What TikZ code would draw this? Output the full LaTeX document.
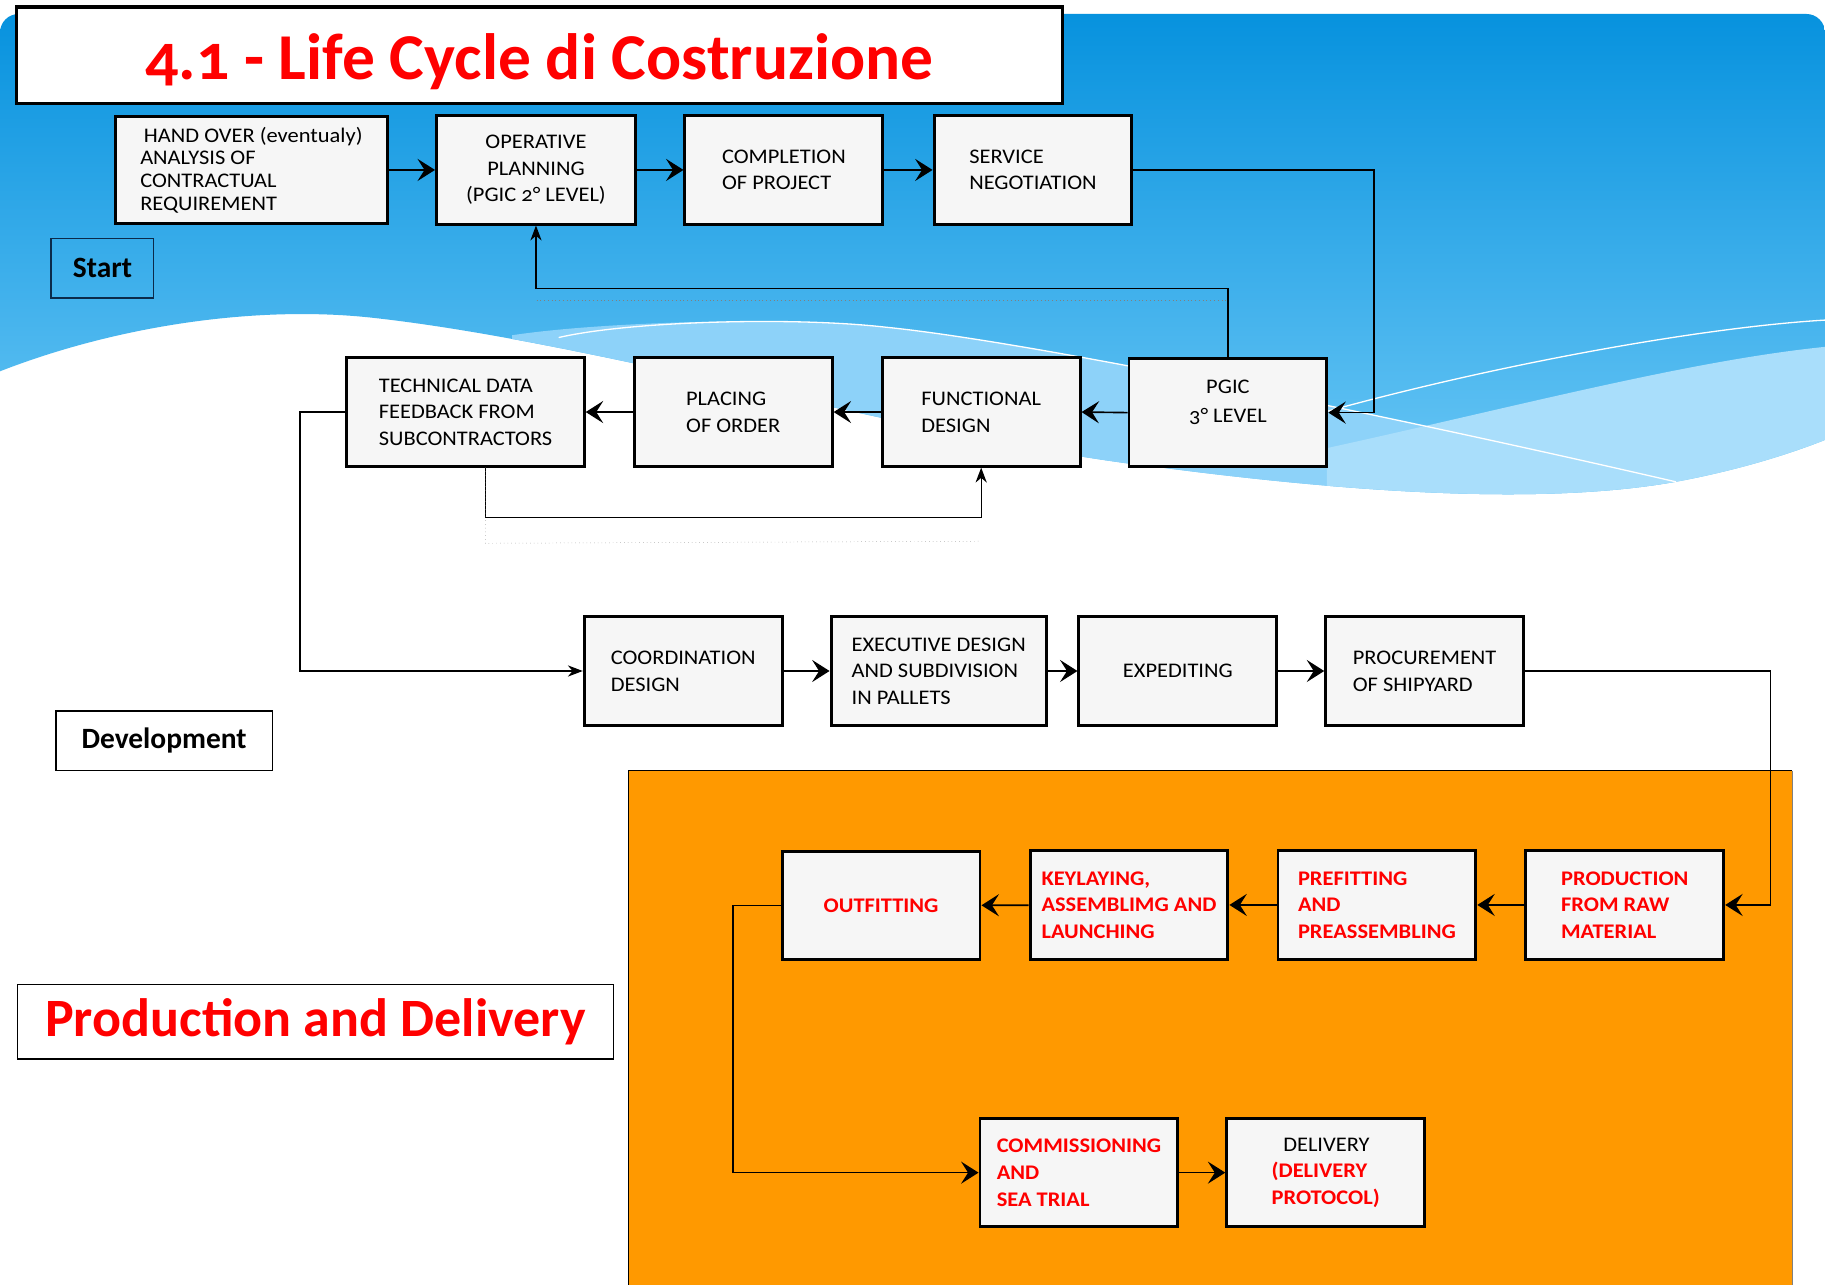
\documentclass[tikz,border=0pt]{standalone}
\usepackage{fontspec}
\setmainfont{Carlito}[Numbers=OldStyle]
\newfontfamily\boxfamily{Carlito}[FakeStretch=1.08, Numbers=OldStyle]
\usetikzlibrary{arrows.meta}
\definecolor{skytop}{HTML}{0792DE}
\definecolor{skybottom}{HTML}{6CC8F6}
\definecolor{skypale}{HTML}{8DD2F9}
\definecolor{skypaler}{HTML}{A9DEFB}
\definecolor{boxfill}{HTML}{F6F6F6}
\definecolor{yardorange}{HTML}{FF9900}
\definecolor{startline}{HTML}{0B2A4A}
\def\pxu{0.25mm}

\begin{document}
\begin{tikzpicture}[x=\pxu, y=-\pxu,
  box/.style={draw, line width=1.8pt, fill=boxfill, minimum width=170*\pxu, minimum height=93*\pxu, align=left, inner sep=2pt, font=\boxfamily\fontsize{12.7}{16.3}\selectfont},
  redbox/.style={box, text=red, font=\boxfamily\fontsize{12.7}{16.3}\selectfont\bfseries},
  tag/.style={draw, line width=1pt, fill=white, font=\fontsize{18}{20}\selectfont\bfseries},
  arr/.style={line width=1pt, -{Stealth[length=3.75mm, width=4.75mm, inset=1.5mm]}},
  arrthin/.style={line width=0.8pt, -{Stealth[length=3.2mm, width=2.4mm, inset=1mm]}},
  ghost/.style={gray, line width=0.3pt, dotted}]
\useasboundingbox (0,0) rectangle (1568,1104);
\fill[white] (0,0) rectangle (1568,1104);
\shade[top color=skytop, bottom color=skybottom] (1568,378) [rounded corners=4mm] -- (1568,12) -- (0,12) [sharp corners] -- (0,319) .. controls (100,280) and (220,262) .. (320,273) .. controls (520,295) and (800,380) .. (1000,402) .. controls (1200,428) and (1350,432) .. (1450,412) .. controls (1510,400) and (1550,385) .. (1568,378);
\begin{scope}
\clip (1568,378) -- (1568,12) -- (0,12) -- (0,319) .. controls (100,280) and (220,262) .. (320,273) .. controls (520,295) and (800,380) .. (1000,402) .. controls (1200,428) and (1350,432) .. (1450,412) .. controls (1510,400) and (1550,385) .. (1568,378);
\fill[skypale] (440,288) .. controls (520,276) and (680,272) .. (760,281) .. controls (900,295) and (1250,370) .. (1440,414) -- (1440,500) -- (440,500) -- cycle;
\fill[skypaler] (1140,385) .. controls (1300,350) and (1450,310) .. (1568,298) -- (1568,500) -- (1140,500) -- cycle;
\draw[white, line width=0.8pt] (480,290) .. controls (540,276) and (680,272) .. (760,281) .. controls (900,295) and (1250,370) .. (1440,414);
\draw[white, line width=0.8pt] (1100,365) .. controls (1250,320) and (1450,282) .. (1568,275);
\end{scope}
\fill[yardorange] (540,662) rectangle (1540,1104);
\draw[line width=0.8pt] (540,1104) |- (1540,662);
\draw[gray, line width=0.6pt] (1540,662) -- (1540,1104);

\node[draw, line width=2pt, fill=white, minimum width=899*\pxu, minimum height=83*\pxu, text=red, font=\fontsize{40}{44}\selectfont\bfseries] (title) at (463.5,47.5) {\raisebox{-1.3mm}[\height][\depth]{4.1 - Life Cycle di Costruzione}};
\node[box, minimum width=234*\pxu, minimum height=92*\pxu, font=\boxfamily\fontsize{12.7}{13.8}\selectfont] (handover) at (216,146) {\hspace*{0.8mm}HAND OVER (eventualy)\\ANALYSIS OF\\CONTRACTUAL\\REQUIREMENT};
\node[box, align=center, minimum width=171*\pxu] (operative) at (460.5,146) {OPERATIVE\\PLANNING\\(PGIC 2° LEVEL)};
\node[box] (completion) at (673.5,146) {COMPLETION\\OF PROJECT};
\node[box] (service) at (887.5,146) {SERVICE\\NEGOTIATION};
\node[tag, draw=startline, fill=none, minimum width=88*\pxu, minimum height=51*\pxu] (start) at (88,230.5) {Start};

\node[box, minimum width=204*\pxu] (technical) at (400,354) {TECHNICAL DATA\\FEEDBACK FROM\\SUBCONTRACTORS};
\node[box] (placing) at (630,354) {PLACING\\OF ORDER};
\node[box] (functional) at (843,354) {FUNCTIONAL\\DESIGN};
\node[box, align=center] (pgic) at (1055,354.5) {PGIC\\[0.6mm]3° LEVEL\\[-0.9mm]};

\node[box] (coordination) at (587,576.5) {COORDINATION\\DESIGN};
\node[box, minimum width=185*\pxu] (executive) at (806.5,576.5) {EXECUTIVE DESIGN\\AND SUBDIVISION\\IN PALLETS};
\node[box, align=center] (expediting) at (1012,576.5) {EXPEDITING};
\node[box] (procurement) at (1224,576.5) {PROCUREMENT\\OF SHIPYARD};
\node[tag, minimum width=186*\pxu, minimum height=51*\pxu] (development) at (141,636.5) {Development};

\node[redbox, align=center] (outfitting) at (757,778) {OUTFITTING};
\node[redbox] (keylaying) at (970,777.5) {KEYLAYING,\\ASSEMBLIMG AND\\LAUNCHING};
\node[redbox] (prefitting) at (1183,777.5) {PREFITTING\\AND\\PREASSEMBLING};
\node[redbox] (production) at (1396,777.5) {PRODUCTION\\FROM RAW\\MATERIAL};
\node[redbox] (commissioning) at (927,1007.5) {COMMISSIONING\\AND\\SEA TRIAL};
\node[box] (delivery) at (1139,1007.5) {\hspace*{2.5mm}DELIVERY\\\textcolor{red}{\bfseries(DELIVERY}\\\textcolor{red}{\bfseries PROTOCOL)}};
\node[tag, minimum width=512*\pxu, minimum height=64*\pxu, text=red, font=\fontsize{33}{36}\selectfont\bfseries] (proddel) at (271,878) {Production and Delivery};

\draw[arr] (handover) -- (operative);
\draw[arr] (operative) -- (completion);
\draw[arr] (completion) -- (service);
\draw[arr] (service.east) -- ++(207,0) |- (pgic.east);
\draw[arrthin] (pgic.north) -- ++(0,-59) -| (operative.south);
\draw[ghost] (461,258) -- (1055,258);
\draw[arr] (pgic.west) -- (functional.east);
\draw[arr] (functional.west) -- (placing.east);
\draw[arr] (placing.west) -- (technical.east);
\draw[arrthin] ([xshift=17*\pxu]technical.south) -- ++(0,43) -| (functional.south);
\draw[ghost] ([xshift=17*\pxu]technical.south) -- ++(0,65) -- (842,465);
\draw[arrthin] (technical.west) -- ++(-39,0) |- (coordination.west);
\draw[arr] (coordination) -- (executive);
\draw[arr] (executive) -- (expediting);
\draw[arr] (expediting) -- (procurement);
\draw[arr] (procurement.east) -- ++(211,0) |- (production.east);
\draw[arr] (production) -- (prefitting);
\draw[arr] (prefitting) -- (keylaying);
\draw[arr] (keylaying) -- (outfitting);
\draw[arr] (outfitting.west) -- ++(-41,0) |- (commissioning.west);
\draw[arr] (commissioning) -- (delivery);
\end{tikzpicture}
\end{document}
